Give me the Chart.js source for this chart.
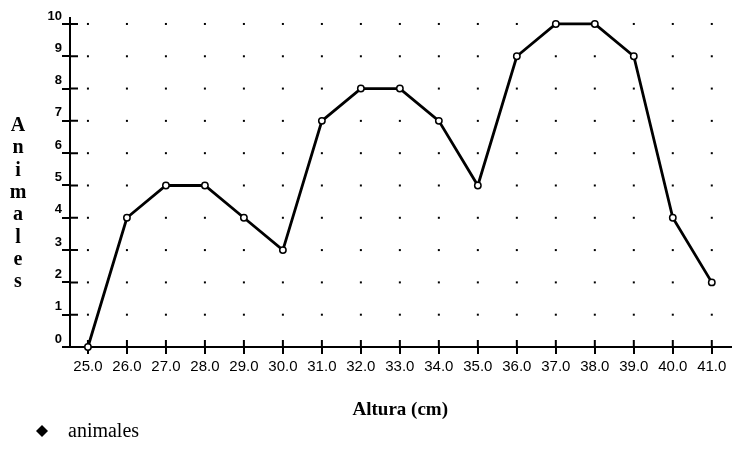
<!DOCTYPE html>
<html>
<head>
<meta charset="utf-8">
<script src="https://cdn.jsdelivr.net/npm/chart.js@4/dist/chart.umd.min.js"></script>
<style>
  html, body { margin: 0; padding: 0; background: #fff; }
  #wrap { width: 736px; height: 449px; }
</style>
</head>
<body>
<div id="wrap"><canvas id="chart" width="736" height="449"></canvas></div>
<script>
// altura (cm) vs numero de animales
const categories = [25, 26, 27, 28, 29, 30, 31, 32, 33, 34, 35, 36, 37, 38, 39, 40, 41];
const animales = [0, 4, 5, 5, 4, 3, 7, 8, 8, 7, 5, 9, 10, 10, 9, 4, 2];
const yTicks = [0, 1, 2, 3, 4, 5, 6, 7, 8, 9, 10];
const xTitle = 'Altura (cm)';
const yTitle = 'Animales';
const seriesName = 'animales';

const points = categories.map((c, i) => ({ x: c, y: animales[i] }));

// dotted grid + ticks that cross the axes
const axisMarks = {
  id: 'axisMarks',
  beforeDatasetsDraw(chart) {
    const { ctx, chartArea, scales: { x, y } } = chart;
    ctx.save();
    ctx.fillStyle = '#000';
    categories.forEach(c => {
      const px = x.getPixelForValue(c);
      yTicks.forEach(v => {
        if (v === 0) return;
        const py = y.getPixelForValue(v);
        ctx.fillRect(px - 1, py - 1, 2, 2);
      });
    });
    ctx.strokeStyle = '#000';
    ctx.lineWidth = 2;
    ctx.beginPath();
    yTicks.forEach(v => {
      const py = y.getPixelForValue(v);
      ctx.moveTo(chartArea.left, py);
      ctx.lineTo(chartArea.left + 8, py);
    });
    categories.forEach(c => {
      const px = x.getPixelForValue(c);
      ctx.moveTo(px, chartArea.bottom);
      ctx.lineTo(px, chartArea.bottom - 7);
    });
    ctx.moveTo(chartArea.left - 8, chartArea.bottom);
    ctx.lineTo(chartArea.left, chartArea.bottom);
    ctx.stroke();
    ctx.restore();
  },
  afterDraw(chart) {
    const { ctx } = chart;
    ctx.save();
    ctx.fillStyle = '#000';
    // stacked y title
    ctx.font = 'bold 20px "Liberation Serif"';
    ctx.textAlign = 'center';
    ctx.textBaseline = 'middle';
    yTitle.split('').forEach((ch, i) => {
      ctx.fillText(ch, 18, 126 + i * 22.3);
    });
    // legend
    ctx.beginPath();
    ctx.moveTo(42, 425);
    ctx.lineTo(48, 431);
    ctx.lineTo(42, 437);
    ctx.lineTo(36, 431);
    ctx.closePath();
    ctx.fill();
    ctx.font = '20px "Liberation Serif"';
    ctx.textAlign = 'left';
    ctx.textBaseline = 'alphabetic';
    ctx.fillText(seriesName, 68, 437);
    ctx.restore();
  }
};

new Chart(document.getElementById('chart'), {
  type: 'line',
  data: {
    datasets: [{
      label: seriesName,
      data: points,
      borderColor: '#000',
      borderWidth: 2.8,
      pointRadius: 3.2,
      pointBorderWidth: 1.5,
      pointBackgroundColor: '#fff',
      pointBorderColor: '#000',
      tension: 0,
      clip: false
    }]
  },
  options: {
    responsive: false,
    animation: false,
    layout: { padding: { left: 0, right: 0, top: 17.5, bottom: 28 } },
    plugins: { legend: { display: false }, tooltip: { enabled: false } },
    scales: {
      x: {
        type: 'linear',
        min: 24.54,
        max: 41.48,
        afterBuildTicks: s => { s.ticks = categories.map(v => ({ value: v })); },
        afterFit: s => { s.height = 74; },
        grid: { drawOnChartArea: false, color: '#000', lineWidth: 2, tickLength: 7 },
        border: { color: '#000', width: 2 },
        ticks: {
          color: '#000',
          autoSkip: false,
          maxRotation: 0,
          padding: 4,
          font: { family: 'Liberation Sans', size: 15 },
          callback: v => v.toFixed(1)
        },
        title: {
          display: true,
          text: xTitle,
          color: '#000',
          padding: 0,
          font: { family: 'Liberation Serif', size: 19, weight: 'bold' }
        }
      },
      y: {
        min: 0,
        max: 10.2,
        afterBuildTicks: s => { s.ticks = yTicks.map(v => ({ value: v })); },
        afterFit: s => { s.width = 70; },
        grid: { drawOnChartArea: false, color: '#000', lineWidth: 2, tickLength: 8 },
        border: { color: '#000', width: 2 },
        ticks: {
          color: '#000',
          padding: 0,
          labelOffset: -8,
          font: { family: 'Liberation Sans', size: 13, weight: 'bold' }
        }
      }
    }
  },
  plugins: [axisMarks]
});
</script>
</body>
</html>
